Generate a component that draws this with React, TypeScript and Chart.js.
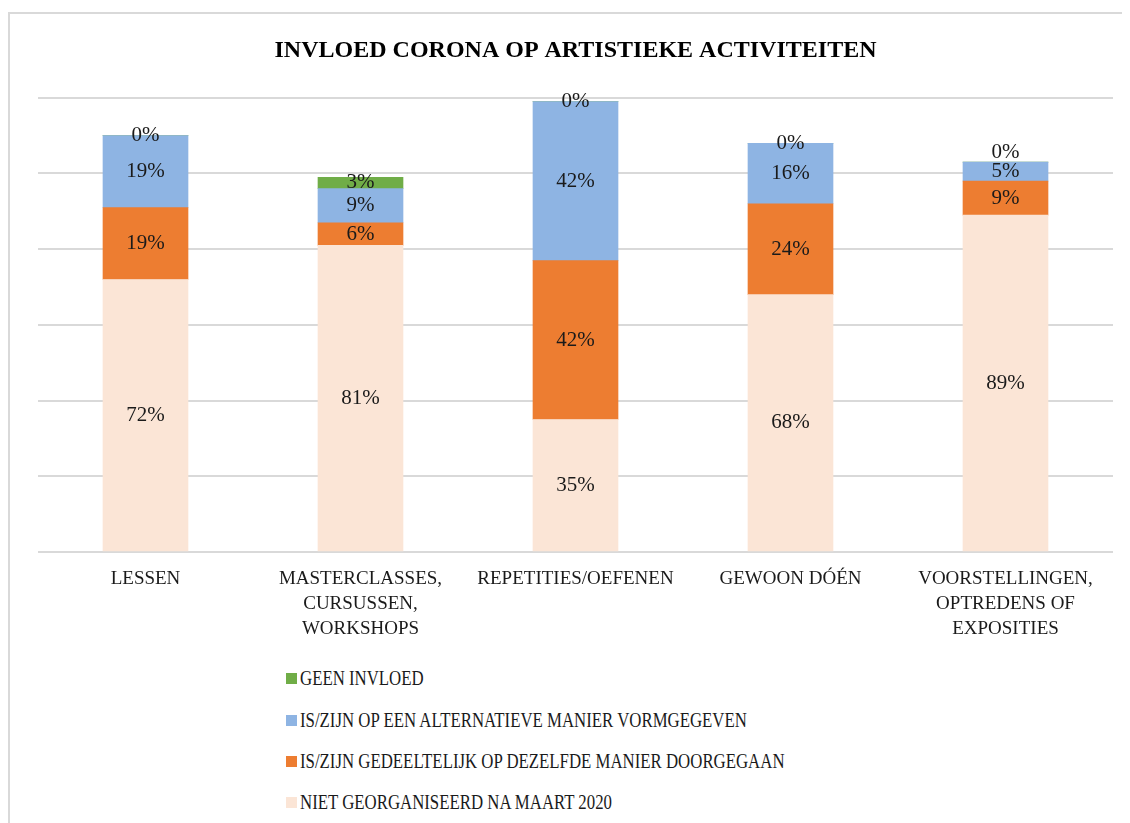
import React, { useEffect, useRef } from "react";
import { Chart, registerables } from "chart.js";

Chart.register(...registerables);

const TITLE = "INVLOED CORONA OP ARTISTIEKE ACTIVITEITEN";

const categories: (string | string[])[] = [
  "LESSEN",
  ["MASTERCLASSES,", "CURSUSSEN,", "WORKSHOPS"],
  "REPETITIES/OEFENEN",
  "GEWOON DÓÉN",
  ["VOORSTELLINGEN,", "OPTREDENS OF", "EXPOSITIES"],
];

const seriesNames = [
  "NIET GEORGANISEERD NA MAART 2020",
  "IS/ZIJN GEDEELTELIJK OP DEZELFDE MANIER DOORGEGAAN",
  "IS/ZIJN OP EEN ALTERNATIEVE MANIER VORMGEGEVEN",
  "GEEN INVLOED",
];

const nietGeorganiseerd = [72, 81, 35, 68, 89];
const gedeeltelijk = [19, 6, 42, 24, 9];
const alternatief = [19, 9, 42, 16, 5];
const geenInvloed = [0, 3, 0, 0, 0];

const seriesColors = ["#FBE5D6", "#ED7D31", "#8EB4E3", "#70AD47"];

const yTicks = [0, 20, 40, 60, 80, 100, 120];

const FONT = '"Liberation Serif", "Times New Roman", serif';
const TEXT = "#1a1a1a";

const segmentLabels = {
  id: "segmentLabels",
  afterDatasetsDraw(chart: any) {
    const ctx = chart.ctx;
    ctx.save();
    ctx.font = `21px ${FONT}`;
    ctx.fillStyle = TEXT;
    ctx.textAlign = "center";
    ctx.textBaseline = "middle";
    const n = chart.data.labels.length;
    for (let j = 0; j < n; j++) {
      let prevY: number | null = null;
      chart.data.datasets.forEach((ds: any, i: number) => {
        const el = chart.getDatasetMeta(i).data[j];
        if (!el) return;
        const p = el.getProps(["x", "y", "base"], true);
        let ly = (p.y + p.base) / 2;
        if (prevY !== null && prevY - ly < 19) ly = prevY - 19;
        ctx.fillText(`${ds.data[j]}%`, p.x, ly);
        prevY = ly;
      });
    }
    ctx.restore();
  },
};

export default function App() {
  const canvasRef = useRef<HTMLCanvasElement | null>(null);

  useEffect(() => {
    if (!canvasRef.current) return;
    const seriesData = [nietGeorganiseerd, gedeeltelijk, alternatief, geenInvloed];
    const chart = new Chart(canvasRef.current, {
      type: "bar",
      data: {
        labels: categories,
        datasets: seriesData.map((d, i) => ({
          label: seriesNames[i],
          data: d,
          backgroundColor: seriesColors[i],
          borderWidth: 0,
          barThickness: 85,
        })),
      },
      options: {
        animation: false,
        responsive: false,
        events: [],
        layout: { padding: { left: 30, right: 17, top: 0, bottom: 0 } },
        plugins: {
          legend: { display: false },
          tooltip: { enabled: false },
          title: {
            display: true,
            text: TITLE,
            color: "#000",
            font: { family: FONT, size: 24, weight: "bold" },
            padding: { top: 28, bottom: 33 },
          },
        },
        scales: {
          x: {
            stacked: true,
            grid: { display: false, drawTicks: false },
            border: { display: false },
            ticks: {
              color: TEXT,
              font: { family: FONT, size: 19, lineHeight: "25px" },
              padding: 15,
              maxRotation: 0,
              autoSkip: false,
            },
            afterFit: (scale: any) => {
              scale.height = 100;
            },
          },
          y: {
            stacked: true,
            min: yTicks[0],
            max: yTicks[yTicks.length - 1],
            afterBuildTicks: (scale: any) => {
              scale.ticks = yTicks.map((v) => ({ value: v }));
            },
            ticks: { display: false },
            grid: { color: "#d9d9d9", lineWidth: 2, drawTicks: false },
            border: { display: false },
          },
        },
      },
      plugins: [segmentLabels],
    });
    return () => chart.destroy();
  }, []);

  const legendOrder = [3, 2, 1, 0];
  const legendTops = [670, 712, 753, 794];

  return (
    <div style={{ position: "relative", width: 1122, height: 815, overflow: "hidden" }}>
      <div
        style={{
          position: "absolute",
          left: 0,
          top: 4,
          width: 1200,
          height: 900,
          border: "2px solid #d9d9d9",
          boxSizing: "border-box",
        }}
      />
      <canvas
        ref={canvasRef}
        width={1122}
        height={644}
        style={{ position: "absolute", left: 0, top: 0, width: 1122, height: 644 }}
      />
      {legendOrder.map((si, k) => (
        <div
          key={si}
          style={{
            position: "absolute",
            left: 278,
            top: legendTops[k] - 12,
            height: 24,
            display: "flex",
            alignItems: "center",
            whiteSpace: "nowrap",
          }}
        >
          <span
            style={{
              display: "inline-block",
              width: 11,
              height: 11,
              background: seriesColors[si],
              marginRight: 3,
            }}
          />
          <span
            style={{
              display: "inline-block",
              fontFamily: FONT,
              fontSize: 21,
              color: TEXT,
              transform: "scaleX(0.8)",
              transformOrigin: "left center",
              lineHeight: "24px",
            }}
          >
            {seriesNames[si]}
          </span>
        </div>
      ))}
    </div>
  );
}
